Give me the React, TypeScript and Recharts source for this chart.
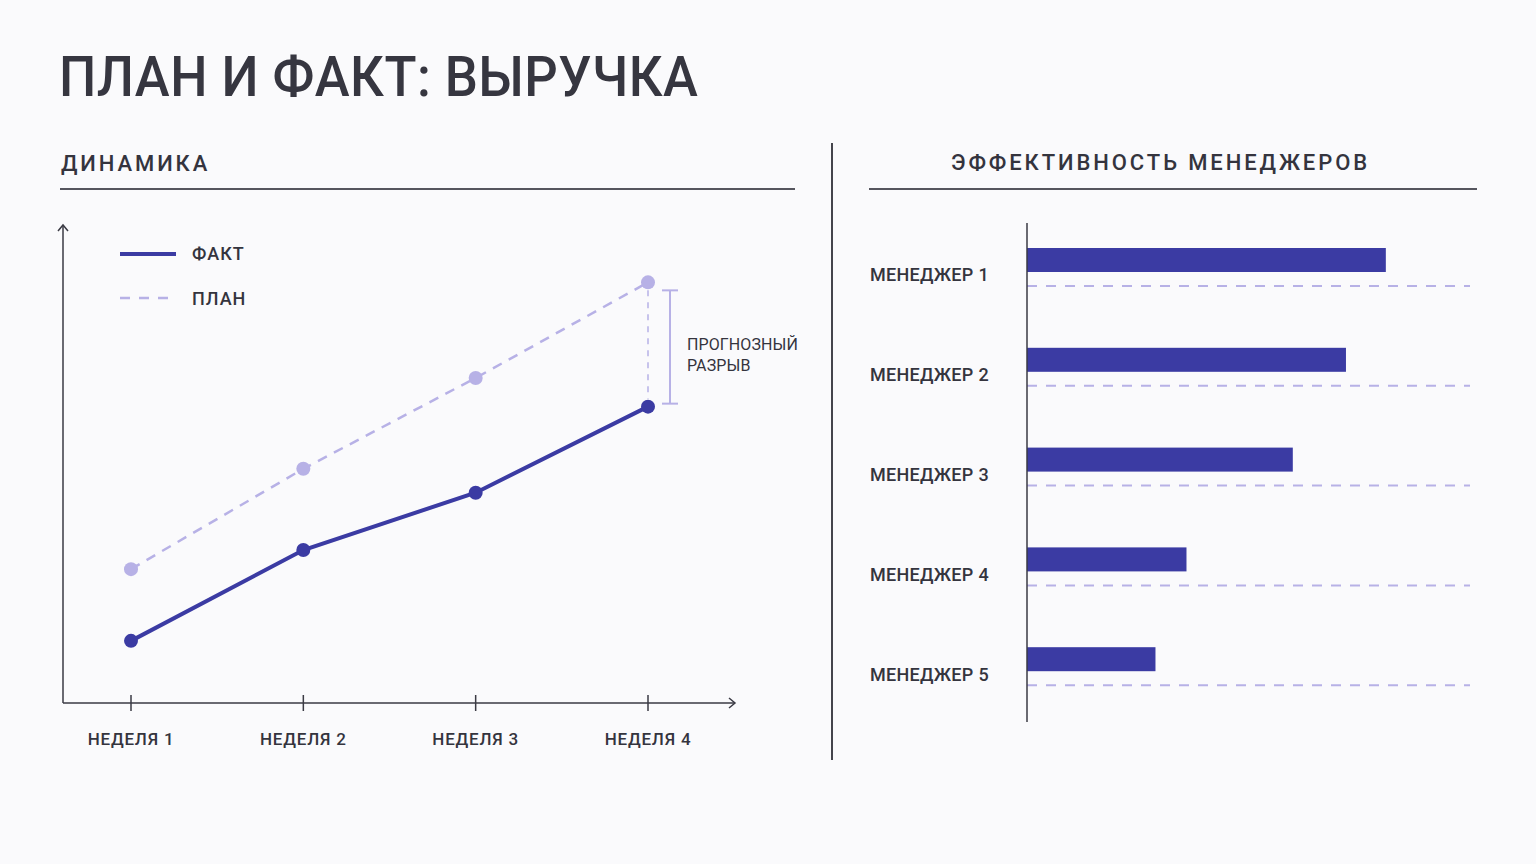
import React from 'react';
import {
  LineChart, Line, XAxis, YAxis, ReferenceLine,
  BarChart, Bar,
} from 'recharts';

const weeks = ['НЕДЕЛЯ 1', 'НЕДЕЛЯ 2', 'НЕДЕЛЯ 3', 'НЕДЕЛЯ 4'];
const factValues = [13, 32, 44, 62];
const planValues = [28, 49, 68, 88];

const managers = ['МЕНЕДЖЕР 1', 'МЕНЕДЖЕР 2', 'МЕНЕДЖЕР 3', 'МЕНЕДЖЕР 4', 'МЕНЕДЖЕР 5'];
const managerValues = [81, 72, 60, 36, 29];

const lineData = weeks.map((w, i) => ({ week: w, fact: factValues[i], plan: planValues[i] }));
const barData = managers.map((m, i) => ({ name: m, value: managerValues[i] }));

const DARK = '#3b3ba3';
const LIGHT = '#b7b1e6';
const TEXT = '#34343e';
const FONT = 'Roboto, "Open Sans", sans-serif';

const WeekTick = (props: any) => {
  const { x, y, payload } = props;
  return (
    <g>
      <line x1={x} x2={x} y1={y - 8} y2={y + 8} stroke="#3a3a44" strokeWidth={1.5} />
      <text x={x} y={y + 36} textAnchor="middle" dominantBaseline="central"
        fontFamily={FONT} fontSize={17} fontWeight={500} letterSpacing={0.8} fill={TEXT}>
        {payload.value}
      </text>
    </g>
  );
};

const GapShape = (props: any) => {
  const { x1, y1, x2, y2 } = props;
  if (x1 == null || y1 == null) return null;
  const top = Math.min(y1, y2);
  const bot = Math.max(y1, y2);
  const bx = x1 + 22;
  const mid = (top + bot) / 2;
  return (
    <g>
      <line x1={x1} x2={x2} y1={top + 8} y2={bot - 8} stroke={LIGHT} strokeWidth={1.5} strokeDasharray="6 6" />
      <line x1={bx} x2={bx} y1={top + 8} y2={bot - 3} stroke={LIGHT} strokeWidth={2} />
      <line x1={bx - 8} x2={bx + 8} y1={top + 8} y2={top + 8} stroke={LIGHT} strokeWidth={2} />
      <line x1={bx - 8} x2={bx + 8} y1={bot - 3} y2={bot - 3} stroke={LIGHT} strokeWidth={2} />
      <text x={bx + 17} y={mid} dominantBaseline="central" fontFamily={FONT} fontSize={16}
        letterSpacing={0.1} fill={TEXT}>ПРОГНОЗНЫЙ</text>
      <text x={bx + 17} y={mid + 21} dominantBaseline="central" fontFamily={FONT} fontSize={16}
        letterSpacing={0.1} fill={TEXT}>РАЗРЫВ</text>
    </g>
  );
};

const ManagerTick = (props: any) => {
  const { y, payload } = props;
  return (
    <text x={10} y={y + 2} textAnchor="start" dominantBaseline="central"
      fontFamily={FONT} fontSize={18} fontWeight={500} letterSpacing={0.3} fill={TEXT}>
      {payload.value}
    </text>
  );
};

const BarWithGuide = (props: any) => {
  const { x, y, width, height, background } = props;
  const right = background ? background.x + background.width : x + 443;
  return (
    <g>
      <rect x={x} y={y - 13} width={width} height={height} fill={DARK} />
      <line x1={x} x2={right} y1={y + height + 1} y2={y + height + 1}
        stroke={LIGHT} strokeWidth={2} strokeDasharray="10 9" />
    </g>
  );
};

export default function App() {
  return (
    <div style={{ position: 'absolute', left: 0, top: 0, width: 1536, height: 864, background: '#fafafc', fontFamily: FONT, color: TEXT, overflow: 'hidden' }}>
      <div style={{ position: 'absolute', left: 59, top: 47, fontSize: 56, fontWeight: 500, letterSpacing: 0.5, lineHeight: '60px', whiteSpace: 'nowrap', color: '#363640', transform: 'scaleX(0.938)', transformOrigin: '0 0' }}>
        ПЛАН И ФАКТ: ВЫРУЧКА
      </div>

      <div style={{ position: 'absolute', left: 61, top: 150, fontSize: 22, fontWeight: 500, letterSpacing: 2.9, lineHeight: '28px', whiteSpace: 'nowrap' }}>
        ДИНАМИКА
      </div>
      <div style={{ position: 'absolute', left: 60, top: 188, width: 735, height: 1.5, background: '#55555e' }} />

      <div style={{ position: 'absolute', left: 951, top: 149, fontSize: 22, fontWeight: 500, letterSpacing: 2.9, lineHeight: '28px', whiteSpace: 'nowrap' }}>
        ЭФФЕКТИВНОСТЬ МЕНЕДЖЕРОВ
      </div>
      <div style={{ position: 'absolute', left: 869, top: 188, width: 608, height: 1.5, background: '#55555e' }} />

      <div style={{ position: 'absolute', left: 831, top: 143, width: 1.5, height: 617, background: '#44444c' }} />

      <div style={{ position: 'absolute', left: 0, top: 0 }}>
        <LineChart width={820} height={780} data={lineData} margin={{ top: 225, right: 85, bottom: 27, left: 62 }}>
          <XAxis dataKey="week" type="category" padding={{ left: 68, right: 87 }} height={50}
            axisLine={{ stroke: '#3a3a44', strokeWidth: 1.5 }} tickLine={false} tickSize={0} tickMargin={0}
            tick={<WeekTick />} interval={0} />
          <YAxis type="number" domain={[0, 100]} width={1} tick={false} tickLine={false}
            axisLine={{ stroke: '#3a3a44', strokeWidth: 1.5 }} />
          <ReferenceLine
            segment={[{ x: weeks[3], y: factValues[3] }, { x: weeks[3], y: planValues[3] }]}
            shape={<GapShape />} ifOverflow="visible" />
          <Line type="linear" dataKey="plan" stroke={LIGHT} strokeWidth={2.5} strokeDasharray="10 8"
            dot={{ r: 7, fill: LIGHT, stroke: LIGHT, strokeWidth: 0, strokeDasharray: '' }} activeDot={false}
            isAnimationActive={false} />
          <Line type="linear" dataKey="fact" stroke={DARK} strokeWidth={4}
            dot={{ r: 7, fill: DARK, stroke: DARK, strokeWidth: 0 }} activeDot={false}
            isAnimationActive={false} />
        </LineChart>
      </div>

      {/* axis arrows */}
      <svg style={{ position: 'absolute', left: 0, top: 0 }} width={820} height={780}>
        <line x1={63} x2={63} y1={225} y2={703} stroke="#3a3a44" strokeWidth={0} />
        <polyline points="58,231 63,225 68,231" fill="none" stroke="#3a3a44" strokeWidth={1.5} />
        <polyline points="729,698 735,703 729,708" fill="none" stroke="#3a3a44" strokeWidth={1.5} />
      </svg>

      {/* legend */}
      <div style={{ position: 'absolute', left: 120, top: 240, width: 220, height: 80 }}>
        <svg style={{ position: 'absolute', left: 0, top: 0 }} width={60} height={80}>
          <line x1={0} x2={56} y1={14} y2={14} stroke={DARK} strokeWidth={4} />
          <line x1={0} x2={56} y1={58} y2={58} stroke={LIGHT} strokeWidth={2.5} strokeDasharray="10 9" />
        </svg>
        <div style={{ position: 'absolute', left: 72, top: 3, fontSize: 18, fontWeight: 500, letterSpacing: 1, lineHeight: '22px' }}>ФАКТ</div>
        <div style={{ position: 'absolute', left: 72, top: 48, fontSize: 18, fontWeight: 500, letterSpacing: 1, lineHeight: '22px' }}>ПЛАН</div>
      </div>

      <div style={{ position: 'absolute', left: 860, top: 200 }}>
        <BarChart width={640} height={540} data={barData} layout="vertical"
          margin={{ top: 23, right: 30, bottom: 18, left: 0 }} barCategoryGap={0}>
          <XAxis type="number" domain={[0, 100]} hide />
          <YAxis type="category" dataKey="name" width={167} tickLine={false} interval={0}
            axisLine={{ stroke: '#3a3a44', strokeWidth: 1.5 }} tick={<ManagerTick />} />
          <Bar dataKey="value" barSize={24} shape={<BarWithGuide />} isAnimationActive={false} />
        </BarChart>
      </div>
    </div>
  );
}
